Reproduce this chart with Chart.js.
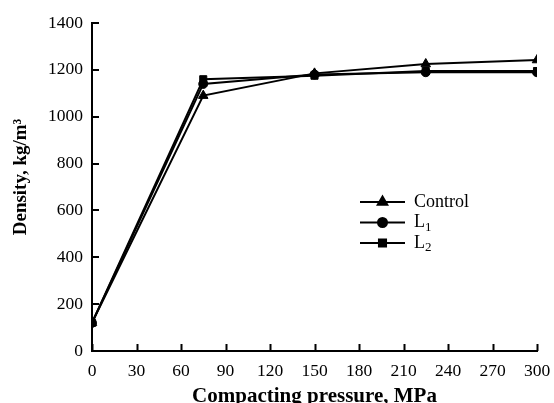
<!DOCTYPE html>
<html>
<head>
   <title>Density vs compacting pressure</title>
   <script src="https://cdn.jsdelivr.net/npm/chart.js"></script>
   <style>
       body { margin: 0; background: #fff; }
       #wrap { width: 554px; height: 403px; }
   </style>
</head>
<body>
   <div id="wrap"><canvas id="densityChart" width="554" height="403"></canvas></div>

   <script>
       // values
       const pressure = [0, 75, 150, 225, 300];
       const control = [120, 1090, 1185, 1225, 1242];
       const l1 = [120, 1140, 1180, 1190, 1190];
       const l2 = [120, 1160, 1175, 1195, 1195];
       const seriesNames = ["Control", "L1", "L2"];
       const xTicks = [0, 30, 60, 90, 120, 150, 180, 210, 240, 270, 300];
       const yTicks = [0, 200, 400, 600, 800, 1000, 1200, 1400];
       const yTitle = "Density, kg/m\u00B3";
       const xTitle = "Compacting pressure, MPa";

       const FONT = "'Liberation Serif', 'Times New Roman', serif";

       function pts(ys) {
           return pressure.map((x, i) => ({ x: x, y: ys[i] }));
       }

       // inward tick marks on both axes
       const innerTicks = {
           id: "innerTicks",
           afterDraw(chart) {
               const c = chart.ctx;
               const xs = chart.scales.x, ys = chart.scales.y;
               const len = 7;
               c.save();
               c.strokeStyle = "#000";
               c.lineWidth = 2;
               c.beginPath();
               xTicks.forEach(v => {
                   const px = Math.round(xs.getPixelForValue(v)) + 0.5;
                   c.moveTo(px, ys.bottom);
                   c.lineTo(px, ys.bottom - len);
               });
               yTicks.forEach(v => {
                   const py = Math.round(ys.getPixelForValue(v));
                   c.moveTo(xs.left, py);
                   c.lineTo(xs.left + len, py);
               });
               c.stroke();
               c.restore();
           }
       };

       // rotated y title, placed a bit above the plot centre like the original
       const yTitlePlugin = {
           id: "yTitlePlugin",
           afterDraw(chart) {
               const c = chart.ctx;
               const ys = chart.scales.y;
               c.save();
               c.translate(21, (ys.top + ys.bottom) / 2 - 10);
               c.rotate(-Math.PI / 2);
               c.fillStyle = "#000";
               c.font = "bold 19px " + FONT;
               c.textAlign = "center";
               c.textBaseline = "middle";
               c.fillText(yTitle, 0, 0);
               c.restore();
           }
       };

       // legend drawn inside the plot: line with marker, label with subscript
       const innerLegend = {
           id: "innerLegend",
           afterDraw(chart) {
               const c = chart.ctx;
               const x0 = 360, x1 = 405, tx = 414;
               let y = 202;
               c.save();
               chart.data.datasets.forEach(ds => {
                   c.strokeStyle = "#000";
                   c.lineWidth = 2;
                   c.beginPath();
                   c.moveTo(x0, y);
                   c.lineTo(x1, y);
                   c.stroke();
                   Chart.helpers.drawPoint(c, {
                       pointStyle: ds.pointStyle,
                       radius: ds.pointRadius,
                       borderWidth: 1
                   }, (x0 + x1) / 2, y);
                   c.fillStyle = "#000";
                   c.textBaseline = "middle";
                   c.textAlign = "left";
                   const m = ds.label.match(/^([A-Za-z]+)(\d)$/);
                   if (m) {
                       c.font = "18px " + FONT;
                       c.fillText(m[1], tx, y);
                       const w = c.measureText(m[1]).width;
                       c.font = "13px " + FONT;
                       c.fillText(m[2], tx + w, y + 5);
                   } else {
                       c.font = "18px " + FONT;
                       c.fillText(ds.label, tx, y);
                   }
                   y += 20.5;
               });
               c.restore();
           }
       };

       const common = {
           borderColor: "#000",
           backgroundColor: "#000",
           pointBackgroundColor: "#000",
           pointBorderColor: "#000",
           borderWidth: 2,
           pointBorderWidth: 1,
           fill: false,
           tension: 0
       };

       const ctx = document.getElementById("densityChart").getContext("2d");
       const chart = new Chart(ctx, {
           type: "scatter",
           data: {
               datasets: [
                   Object.assign({ label: seriesNames[0], data: pts(control), showLine: true,
                       pointStyle: "triangle", pointRadius: 5.5 }, common),
                   Object.assign({ label: seriesNames[1], data: pts(l1), showLine: true,
                       pointStyle: "circle", pointRadius: 4.5 }, common),
                   Object.assign({ label: seriesNames[2], data: pts(l2), showLine: true,
                       pointStyle: "rect", pointRadius: 5 }, common)
               ]
           },
           options: {
               responsive: false,
               animation: false,
               layout: { padding: { top: 23, right: 17, left: 0, bottom: 0 } },
               plugins: {
                   legend: { display: false },
                   tooltip: { enabled: false }
               },
               scales: {
                   x: {
                       type: "linear",
                       min: 0, max: 300,
                       afterBuildTicks: s => { s.ticks = xTicks.map(v => ({ value: v })); },
                       afterFit: s => { s.height = 52; s.paddingRight = 0; s.paddingLeft = 0; },
                       border: { color: "#000", width: 2 },
                       grid: { display: false, drawTicks: false },
                       ticks: {
                           color: "#000", padding: 10, maxRotation: 0,
                           callback: v => String(v),
                           font: { family: FONT, size: 17.5 }
                       },
                       title: {
                           display: true,
                           text: xTitle,
                           color: "#000",
                           padding: { top: 0, bottom: -6 },
                           font: { family: FONT, size: 21, weight: "bold" }
                       }
                   },
                   y: {
                       min: 0, max: 1400,
                       afterBuildTicks: s => { s.ticks = yTicks.map(v => ({ value: v })); },
                       afterFit: s => { s.width = 92; },
                       border: { color: "#000", width: 2 },
                       grid: { display: false, drawTicks: false },
                       ticks: {
                           color: "#000", padding: 9,
                           callback: v => String(v),
                           font: { family: FONT, size: 17.5 }
                       },
                       title: { display: false }
                   }
               }
           },
           plugins: [innerTicks, yTitlePlugin, innerLegend]
       });
   </script>
</body>
</html>
